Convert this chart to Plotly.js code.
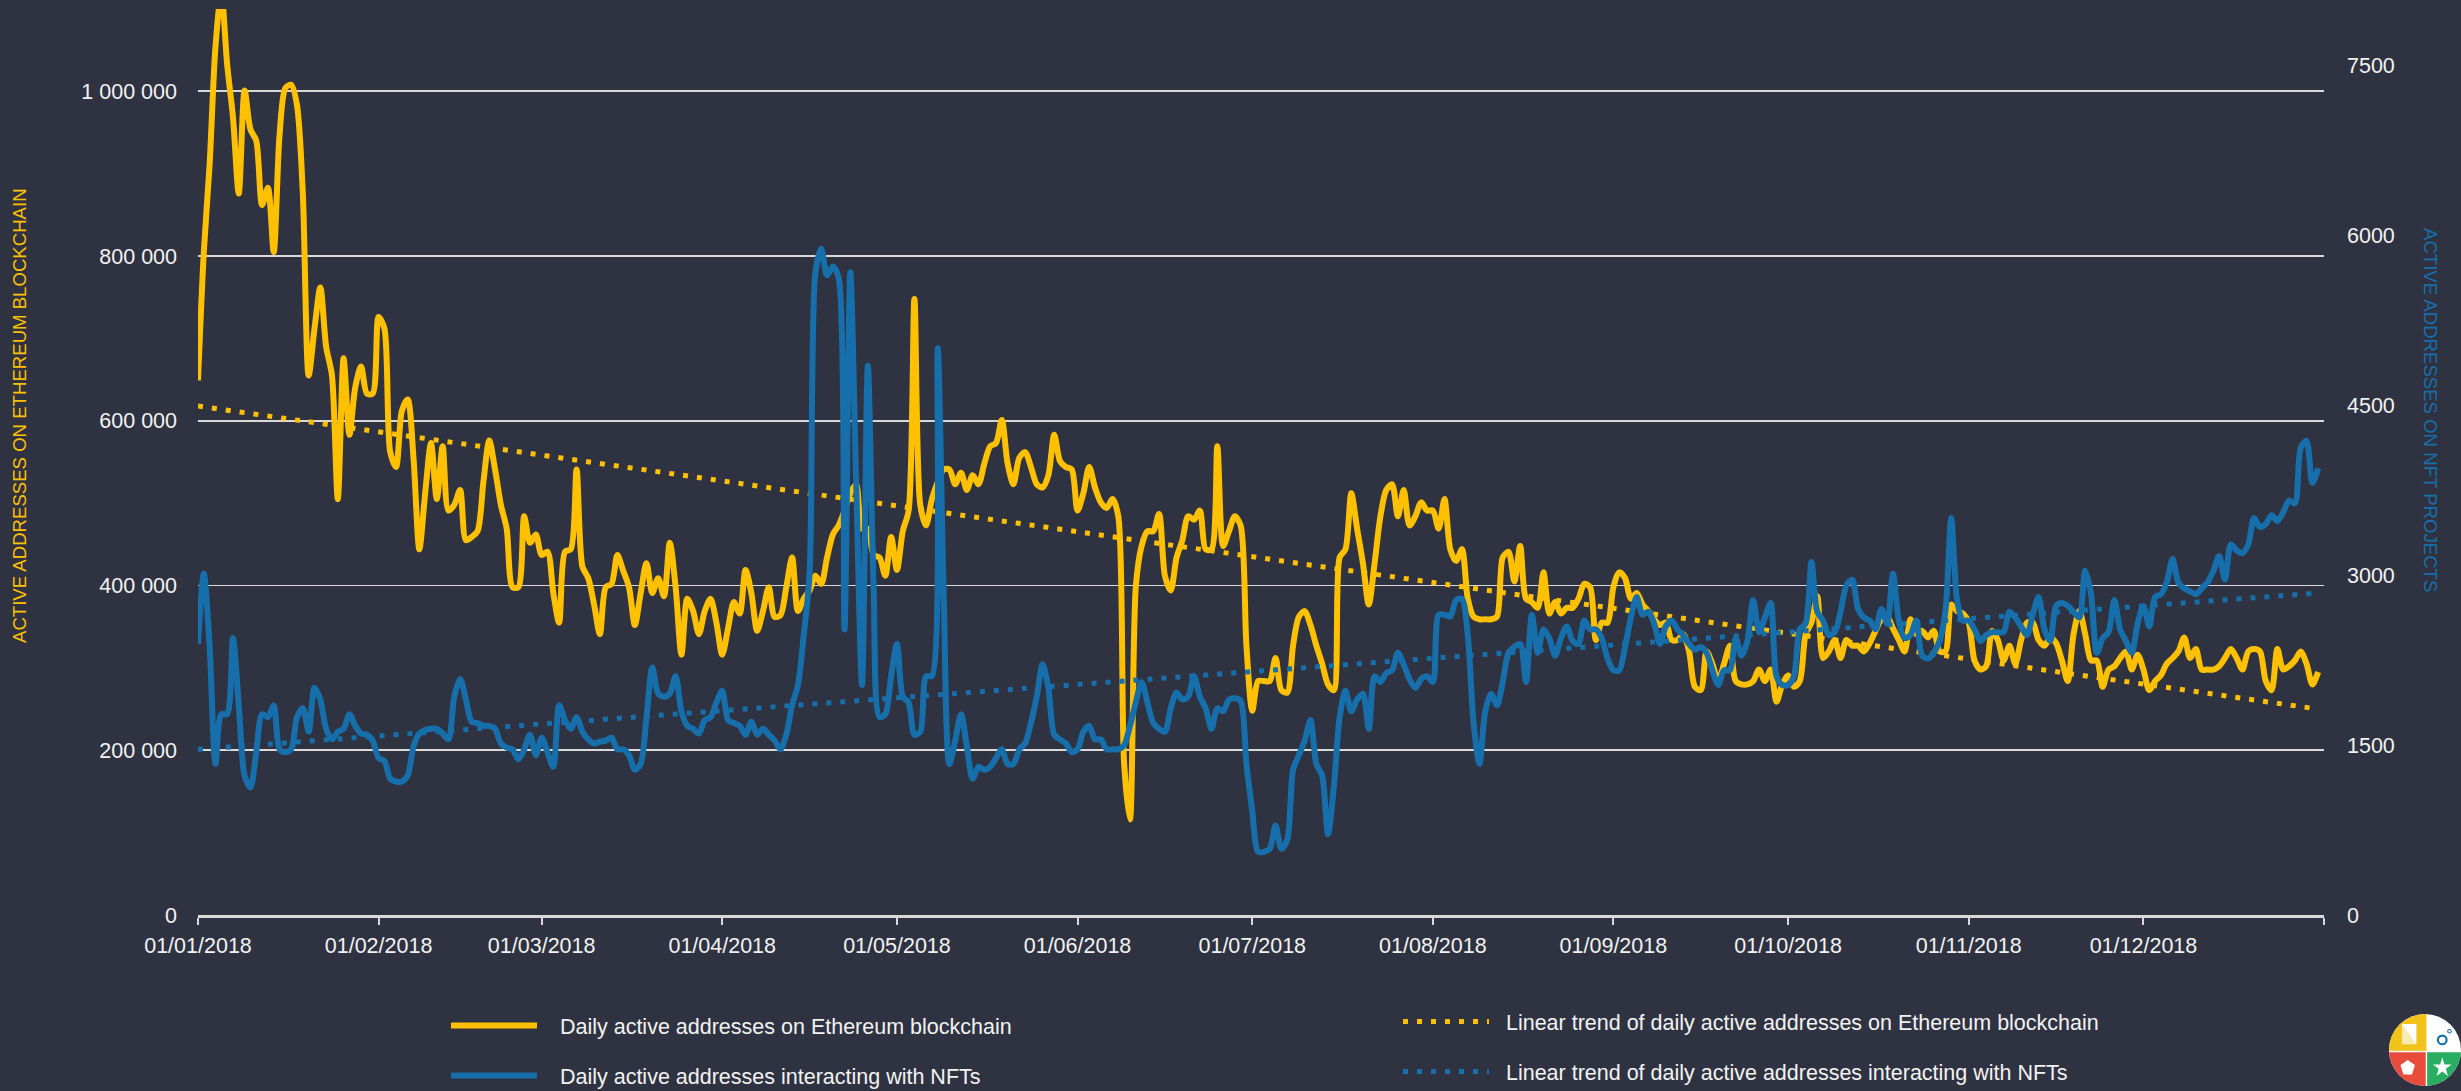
<!DOCTYPE html>
<html>
<head>
<meta charset="utf-8">
<script src="https://cdn.plot.ly/plotly-3.0.1.min.js"></script>
<style>
  html, body { margin: 0; padding: 0; background: #2F3241; }
  #chart { width: 2461px; height: 1091px; }
</style>
</head>
<body>
<div id="chart"></div>
<script>
// ---------------- DATA ----------------
const firstDay = '2018-01-01';
const dayCount = 365;

// Daily active addresses on Ethereum blockchain (left axis)
const ethDaily = [
 649000, 805000, 912000, 1054000, 1120000, 1033000, 969000, 876000, 1001000, 954000,
 940000, 862000, 883000, 805000, 947000, 1004000, 1008000, 983000, 876000, 655000,
 712000, 762000, 690000, 655000, 505000, 676000, 583000, 641000, 666000, 633000,
 633000, 726000, 712000, 562000, 544000, 612000, 626000, 555000, 444000, 512000,
 573000, 505000, 569000, 491000, 498000, 516000, 455000, 459000, 466000, 526000,
 576000, 541000, 498000, 469000, 398000, 398000, 484000, 452000, 462000, 437000,
 441000, 391000, 355000, 441000, 444000, 541000, 423000, 409000, 377000, 341000,
 398000, 402000, 437000, 418000, 398000, 352000, 391000, 427000, 391000, 409000,
 387000, 452000, 398000, 316000, 384000, 369000, 341000, 369000, 384000, 355000,
 316000, 348000, 380000, 366000, 419000, 391000, 345000, 369000, 398000, 362000,
 364000, 398000, 434000, 369000, 384000, 394000, 412000, 402000, 434000, 462000,
 473000, 491000, 512000, 523000, 469000, 469000, 437000, 434000, 412000, 459000,
 419000, 466000, 491000, 748000, 498000, 473000, 505000, 526000, 541000, 541000,
 523000, 537000, 516000, 534000, 523000, 548000, 569000, 573000, 601000, 548000,
 523000, 555000, 562000, 544000, 523000, 519000, 534000, 583000, 551000, 544000,
 541000, 491000, 512000, 544000, 519000, 501000, 494000, 505000, 484000, 184000,
 116000, 398000, 448000, 466000, 466000, 487000, 412000, 394000, 434000, 455000,
 484000, 480000, 491000, 444000, 444000, 569000, 448000, 466000, 484000, 473000,
 327000, 248000, 284000, 284000, 284000, 312000, 273000, 270000, 327000, 362000,
 369000, 352000, 327000, 305000, 280000, 273000, 434000, 444000, 512000, 469000,
 427000, 377000, 427000, 484000, 516000, 523000, 484000, 516000, 473000, 484000,
 501000, 491000, 491000, 469000, 505000, 444000, 430000, 444000, 384000, 362000,
 359000, 359000, 359000, 362000, 434000, 441000, 405000, 448000, 384000, 380000,
 373000, 416000, 366000, 380000, 366000, 373000, 373000, 384000, 402000, 398000,
 334000, 355000, 355000, 398000, 416000, 409000, 384000, 391000, 377000, 369000,
 359000, 352000, 355000, 334000, 334000, 341000, 320000, 277000, 273000, 320000,
 305000, 284000, 305000, 327000, 284000, 280000, 280000, 284000, 298000, 284000,
 298000, 259000, 280000, 291000, 277000, 284000, 341000, 355000, 387000, 312000,
 320000, 334000, 312000, 334000, 327000, 327000, 320000, 330000, 345000, 359000,
 362000, 348000, 334000, 320000, 359000, 341000, 345000, 337000, 345000, 320000,
 320000, 377000, 369000, 366000, 355000, 309000, 298000, 302000, 345000, 334000,
 309000, 327000, 305000, 334000, 355000, 355000, 334000, 327000, 337000, 330000,
 309000, 284000, 341000, 369000, 341000, 309000, 309000, 277000, 298000, 302000,
 312000, 320000, 298000, 316000, 298000, 273000, 284000, 291000, 305000, 312000,
 320000, 337000, 312000, 323000, 298000, 298000, 298000, 302000, 312000, 323000,
 312000, 298000, 320000, 323000, 320000, 284000, 273000, 323000, 298000, 302000,
 309000, 320000, 305000, 280000, 295000
];

// Daily active addresses interacting with NFTs (right axis)
const nftDaily = [
 2393, 3014, 2367, 1334, 1773, 1773, 2445, 1851, 1230, 1127,
 1437, 1773, 1747, 1851, 1463, 1437, 1463, 1747, 1825, 1618,
 2006, 1902, 1644, 1551, 1618, 1644, 1773, 1670, 1602, 1592,
 1540, 1385, 1359, 1204, 1179, 1179, 1230, 1489, 1602, 1633,
 1644, 1644, 1602, 1551, 1928, 2083, 1902, 1706, 1695, 1670,
 1670, 1644, 1515, 1478, 1463, 1375, 1463, 1592, 1411, 1566,
 1437, 1308, 1851, 1721, 1644, 1747, 1618, 1551, 1515, 1530,
 1540, 1566, 1463, 1463, 1411, 1282, 1334, 1747, 2186, 1954,
 1928, 1954, 2109, 1799, 1670, 1644, 1602, 1721, 1747, 1876,
 1980, 1721, 1695, 1670, 1592, 1706, 1592, 1644, 1592, 1540,
 1463, 1592, 1851, 2031, 2471, 3014, 5676, 5882, 5650, 5727,
 5624, 2522, 5676, 3815, 2031, 4849, 2884, 1747, 1773, 2109,
 2393, 1928, 1876, 1592, 1618, 2109, 2109, 5004, 2884, 1334,
 1540, 1773, 1489, 1204, 1308, 1282, 1308, 1385, 1463, 1334,
 1334, 1463, 1515, 1695, 1928, 2212, 2006, 1592, 1551, 1515,
 1437, 1463, 1618, 1670, 1551, 1551, 1463, 1463, 1463, 1499,
 1670, 1876, 2057, 1876, 1695, 1644, 1618, 1825, 1964, 1902,
 1928, 2109, 1928, 1825, 1644, 1825, 1799, 1902, 1913, 1892,
 1334, 920, 558, 558, 584, 791, 584, 662, 1282, 1411,
 1540, 1721, 1334, 1230, 713, 1127, 1747, 1980, 1799, 1902,
 1954, 1644, 2109, 2057, 2135, 2161, 2316, 2212, 2083, 2006,
 2083, 2109, 2057, 2652, 2652, 2636, 2781, 2791, 2471, 1695,
 1334, 1799, 1954, 1851, 2057, 2316, 2367, 2393, 2057, 2652,
 2316, 2522, 2445, 2290, 2445, 2548, 2419, 2393, 2600, 2522,
 2522, 2445, 2264, 2161, 2161, 2367, 2626, 2807, 2652, 2678,
 2574, 2393, 2548, 2600, 2522, 2471, 2393, 2342, 2367, 2316,
 2161, 2031, 2161, 2161, 2445, 2290, 2419, 2781, 2497, 2626,
 2755, 2109, 2031, 2031, 2109, 2522, 2574, 3117, 2678, 2600,
 2471, 2497, 2678, 2910, 2962, 2703, 2626, 2600, 2522, 2703,
 2574, 3014, 2600, 2445, 2471, 2600, 2290, 2264, 2316, 2419,
 2678, 3505, 2781, 2600, 2600, 2522, 2419, 2471, 2497, 2497,
 2497, 2678, 2626, 2548, 2471, 2652, 2807, 2522, 2419, 2729,
 2755, 2729, 2678, 2626, 3039, 2833, 2316, 2445, 2497, 2781,
 2522, 2419, 2316, 2574, 2729, 2548, 2807, 2833, 2936, 3143,
 2936, 2884, 2858, 2833, 2884, 2936, 3039, 3169, 2962, 3272,
 3220, 3194, 3272, 3505, 3427, 3453, 3530, 3479, 3556, 3660,
 3634, 4125, 4187, 3815, 3944
];

// Linear trend lines (end points)
const trendDates = ['2018-01-01', '2018-12-31'];
const ethTrend = [618000, 250000];
const nftTrend = [1463, 2843];

// Axis ticks
const monthTicks = ['2018-01-01','2018-02-01','2018-03-01','2018-04-01','2018-05-01','2018-06-01',
                    '2018-07-01','2018-08-01','2018-09-01','2018-10-01','2018-11-01','2018-12-01'];
const leftTicks = [0, 200000, 400000, 600000, 800000, 1000000];
const rightTicks = [0, 1500, 3000, 4500, 6000, 7500];

const seriesNames = {
  eth: 'Daily active addresses on Ethereum blockchain',
  nft: 'Daily active addresses interacting with NFTs',
  ethTrend: 'Linear trend of daily active addresses on Ethereum blockchain',
  nftTrend: 'Linear trend of daily active addresses interacting with NFTs'
};
const axisTitles = {
  left: 'ACTIVE ADDRESSES ON ETHEREUM BLOCKCHAIN',
  right: 'ACTIVE ADDRESSES ON NFT PROJECTS'
};

// ---------------- BUILD ----------------
function buildDates(start, n) {
  const p = start.split('-').map(Number);
  const t0 = Date.UTC(p[0], p[1] - 1, p[2]);
  const out = [];
  for (let i = 0; i < n; i++) out.push(new Date(t0 + i * 86400000).toISOString().slice(0, 10));
  return out;
}
const dates = buildDates(firstDay, dayCount);

const YELLOW = '#FFC000';
const BLUE = '#166FAA';
const BG = '#2F3241';
const GRID = '#D9D9D9';
const TXT = '#F2F2F2';
const PAD1 = '\u00A0\u00A0\u00A0';
const PAD2 = '\u00A0\u00A0';

const traces = [
  { x: dates, y: ethDaily, type: 'scatter', mode: 'lines', name: PAD1 + seriesNames.eth,
    line: { color: YELLOW, width: 6, shape: 'spline', smoothing: 0.8 },
    yaxis: 'y', legend: 'legend', legendgroup: 'g1' },
  { x: trendDates, y: ethTrend, type: 'scatter', mode: 'lines', name: PAD2 + seriesNames.ethTrend,
    line: { color: YELLOW, width: 5, dash: '5px,9px' },
    yaxis: 'y', legend: 'legend2', legendgroup: 'g3' },
  { x: dates, y: nftDaily, type: 'scatter', mode: 'lines', name: PAD1 + seriesNames.nft,
    line: { color: BLUE, width: 6, shape: 'spline', smoothing: 0.8 },
    yaxis: 'y2', legend: 'legend', legendgroup: 'g2' },
  { x: trendDates, y: nftTrend, type: 'scatter', mode: 'lines', name: PAD2 + seriesNames.nftTrend,
    line: { color: BLUE, width: 5, dash: '5px,9px' },
    yaxis: 'y2', legend: 'legend2', legendgroup: 'g4' }
];

const W = 2461, H = 1091;
const M = { l: 198, r: 137, t: 9, b: 176 };
const PW = W - M.l - M.r, PH = H - M.t - M.b;
const px = x => (x - M.l) / PW;          // pixel -> paper x
const py = y => (H - M.b - y) / PH;      // pixel -> paper y

const tickFont = { family: 'Liberation Sans, Arial, sans-serif', size: 21.5, color: TXT };
const legendFont = { family: 'Liberation Sans, Arial, sans-serif', size: 21.5, color: TXT };
const titleFontFamily = 'Liberation Sans Narrow, Arial Narrow, Liberation Sans, sans-serif';

const logoSvg =
  '<svg xmlns="http://www.w3.org/2000/svg" viewBox="0 0 100 100">' +
  '<defs><clipPath id="c"><circle cx="50" cy="50" r="50"/></clipPath></defs>' +
  '<g clip-path="url(#c)">' +
  '<rect x="0" y="0" width="100" height="100" fill="#FFFFFF"/>' +
  '<rect x="0" y="0" width="52" height="52" fill="#F2C31B"/>' +
  '<rect x="0" y="52" width="52" height="48" fill="#E84C3D"/>' +
  '<rect x="52" y="52" width="48" height="48" fill="#27AE60"/>' +
  '<polygon points="18,14 38,14 38,42 18,42" fill="#FFFFFF"/>' +
  '<polygon points="18,14 38,42 18,42" fill="#F2C31B" opacity="0.35"/>' +
  '<circle cx="74" cy="36" r="6" fill="none" stroke="#166FAA" stroke-width="3"/>' +
  '<circle cx="84" cy="24" r="2.5" fill="none" stroke="#166FAA" stroke-width="1.5"/>' +
  '<polygon points="26,64 36,71 32,84 20,84 16,71" fill="#FFFFFF"/>' +
  '<polygon points="74,60 77,70 87,70 79,76 82,86 74,80 66,86 69,76 61,70 71,70" fill="#FFFFFF"/>' +
  '<line x1="0" y1="52" x2="100" y2="52" stroke="#FFFFFF" stroke-width="2"/>' +
  '<line x1="52" y1="52" x2="52" y2="100" stroke="#FFFFFF" stroke-width="2"/>' +
  '</g></svg>';

const layout = {
  width: W, height: H,
  paper_bgcolor: BG, plot_bgcolor: BG,
  margin: { l: M.l, r: M.r, t: M.t, b: M.b, autoexpand: false },
  separators: '. ',
  showlegend: true,
  hovermode: false,
  xaxis: {
    type: 'date',
    range: ['2018-01-01', '2019-01-01'],
    tickmode: 'array', tickvals: monthTicks, tickformat: '%d/%m/%Y',
    ticks: 'outside', ticklen: 7, tickwidth: 2, tickcolor: GRID,
    ticklabelstandoff: 3,
    showline: true, linecolor: GRID, linewidth: 2.5,
    showgrid: false, zeroline: false,
    tickfont: tickFont,
    minor: { tickmode: 'array', tickvals: ['2019-01-01'], ticks: 'outside', ticklen: 7, tickwidth: 2, tickcolor: GRID, showgrid: false }
  },
  yaxis: {
    range: [0, 1100000],
    tickmode: 'array', tickvals: leftTicks,
    tickformat: ',d',
    showgrid: true, gridcolor: GRID, gridwidth: 1.8,
    zeroline: false, showline: false, ticks: '',
    ticklabelstandoff: 20,
    tickfont: tickFont
  },
  yaxis2: {
    overlaying: 'y', side: 'right',
    range: [0, 8000],
    tickmode: 'array', tickvals: rightTicks,
    tickformat: 'd',
    showgrid: false, zeroline: false, showline: false, ticks: '',
    ticklabelstandoff: 22,
    tickfont: tickFont
  },
  legend: {
    x: px(446), y: py(1005), xanchor: 'left', yanchor: 'top',
    orientation: 'v', bgcolor: 'rgba(0,0,0,0)', borderwidth: 0,
    font: legendFont, itemwidth: 86, traceorder: 'grouped', tracegroupgap: 19
  },
  legend2: {
    x: px(1398), y: py(1001), xanchor: 'left', yanchor: 'top',
    orientation: 'v', bgcolor: 'rgba(0,0,0,0)', borderwidth: 0,
    font: legendFont, itemwidth: 86, traceorder: 'grouped', tracegroupgap: 19
  },
  annotations: [
    { text: axisTitles.left, xref: 'paper', yref: 'paper', x: px(20), y: py(416),
      xanchor: 'center', yanchor: 'middle', textangle: -90, showarrow: false,
      font: { family: titleFontFamily, size: 18.6, color: YELLOW } },
    { text: axisTitles.right, xref: 'paper', yref: 'paper', x: px(2431), y: py(410),
      xanchor: 'center', yanchor: 'middle', textangle: 90, showarrow: false,
      font: { family: titleFontFamily, size: 18.6, color: BLUE } }
  ],
  images: [
    { source: 'data:image/svg+xml;charset=utf-8,' + encodeURIComponent(logoSvg),
      xref: 'paper', yref: 'paper', x: px(2389), y: py(1014),
      sizex: 72 / PW, sizey: 72 / PH, xanchor: 'left', yanchor: 'top',
      sizing: 'contain', layer: 'above' }
  ]
};

Plotly.newPlot('chart', traces, layout, { displayModeBar: false, staticPlot: true });
</script>
</body>
</html>
